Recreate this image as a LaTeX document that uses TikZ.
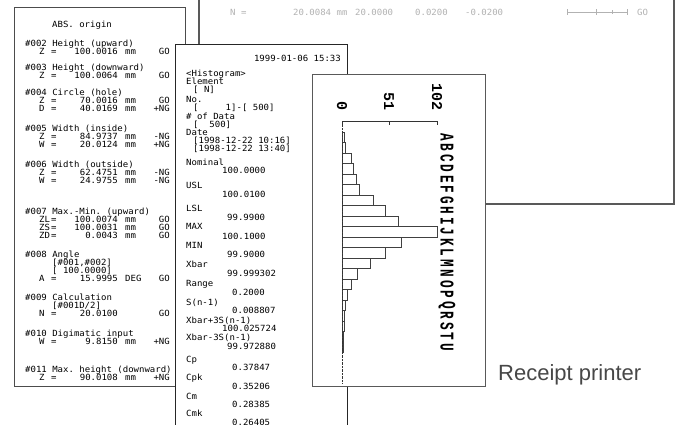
\documentclass[tikz,border=0pt]{standalone}
\usepackage{fontspec}
\setmonofont[FakeStretch=1.06]{DejaVu Sans Mono}
\newfontfamily\histfont{Liberation Mono}
\newfontfamily\capfont{Liberation Sans}
\usetikzlibrary{positioning}

\begin{document}
\begin{tikzpicture}[x=1pt, y=-1pt,
    sheet/.style={draw=black!70, fill=white, line width=0.9pt},
    prt/.style={font=\ttfamily\fontsize{8.5}{8.5}\selectfont, inner sep=0pt,
      text height=6pt, text depth=0pt, anchor=west},
    prtr/.style={prt, anchor=east},
    faint/.style={prt, text=black!30},
    hbar/.style={draw=black!75, fill=white, line width=0.6pt},
    hnum/.style={font=\histfont\bfseries\fontsize{15}{15}\selectfont,
      inner sep=0pt, rotate=-90, anchor=east},
    hlet/.style={font=\histfont\bfseries\fontsize{15}{15}\selectfont,
      inner sep=0pt, rotate=-90}]
  \useasboundingbox (0,0) rectangle (681,424);

  % Back sheet (top right)
  \draw[sheet, draw=black!65, line width=1.1pt] (199,-5) rectangle (674,204);
  \node[faint] (bvar) at (230,12) {N =};
  \node[faint] (bval) at (293,12) {20.0084 mm};
  \node[faint] (bnom) at (355,12) {20.0000};
  \node[faint] (bup) at (415,12) {0.0200};
  \node[faint] (blo) at (465,12) {-0.0200};
  \node[faint] (bjd) at (637,12) {GO};
  \draw[black!30] (567,12) -- (627,12);
  \draw[black!30] (567,9) -- ++(0,6) (596,9) -- ++(0,6) (612,10) -- ++(0,4)
    (627,9) -- ++(0,6);

  % Left sheet
  \draw[sheet] (14,7) rectangle (185,386);
  \foreach \xx/\yy/\tx [count=\i] in {
      52/24/ABS. origin,
      25/43/\#002 Height (upward),
      25/67/\#003 Height (downward),
      25/92/\#004 Circle (hole),
      25/128/\#005 Width (inside),
      25/164/\#006 Width (outside),
      25/211/\#007 Max.-Min. (upward),
      25/254/\#008 Angle,
      52/262/{[\#001,\#002]},
      52/270/{[\ 100.0000]},
      25/297/\#009 Calculation,
      52/305/{[\#001D/2]},
      25/333/\#010 Digimatic input,
      25/369/\#011 Max. height (downward)}
    \node[prt] (lh\i) at (\xx,\yy) {\tx};
  \foreach \yy/\vr/\vl/\un/\jd [count=\i] in {
      51/Z/100.0016/mm/GO,
      75/Z/100.0064/mm/GO,
      100/Z/70.0016/mm/GO,
      108/D/40.0169/mm/+NG,
      136/Z/84.9737/mm/-NG,
      144/W/20.0124/mm/+NG,
      172/Z/62.4751/mm/-NG,
      180/W/24.9755/mm/-NG,
      219/ZL/100.0074/mm/GO,
      227/ZS/100.0031/mm/GO,
      235/ZD/0.0043/mm/GO,
      278/A/15.9995/DEG/GO,
      313/N/20.0100//GO,
      341/W/9.8150/mm/+NG,
      377/Z/90.0108/mm/+NG}
  {
    \node[prt] (lv\i) at (39,\yy) {\vr};
    \node[prt] (le\i) at (51,\yy) {=};
    \node[prtr] (ln\i) at (118,\yy) {\vl};
    \node[prt] (lu\i) at (125,\yy) {\un};
    \node[prtr] (lj\i) at (170,\yy) {\jd};
  }

  % Middle sheet
  \draw[sheet, draw=black!85, line width=0.8pt] (175,430) -- (175,44) -- (347,44)
    -- (347,430);
  \node[prtr] (mdate) at (341,58) {1999-01-06 15:33};
  \foreach \xx/\yy/\tx [count=\i] in {
      186/73/{<Histogram>},
      186/81/Element,
      193/89/{[ N]},
      186/99/No.,
      193/107/{[\ \ \ \ \ 1]-[\ 500]},
      186/116/{\# of Data},
      193/124/{[\ \ 500]},
      186/132/Date,
      193/140/{[1998-12-22 10:16]},
      193/148/{[1998-12-22 13:40]},
      186/162/Nominal,   222/170/100.0000,
      186/185/USL,       222/194/100.0100,
      186/208/LSL,       227/217/99.9900,
      186/226/MAX,       222/236/100.1000,
      186/245/MIN,       227/254/99.9000,
      186/264/Xbar,      227/273/99.999302,
      186/283/Range,     232/292/0.2000,
      186/302/{S(n-1)},  232/310/0.008807,
      186/320/{Xbar+3S(n-1)}, 222/328/100.025724,
      186/337/{Xbar-3S(n-1)}, 227/346/99.972880,
      186/359/Cp,        232/367/0.37847,
      186/377/Cpk,       232/386/0.35206,
      186/396/Cm,        232/404/0.28385,
      186/413/Cmk,       232/422/0.26405}
    \node[prt] (mt\i) at (\xx,\yy) {\tx};

  % Histogram sheet
  \draw[sheet, draw=black!65] (312,74) rectangle (485,386);
  \draw[black!80, line width=0.6pt] (342,121) -- (437,121);
  \draw[black!80, line width=0.6pt] (342,121) -- ++(0,4) (389,121) -- ++(0,4)
    (437,121) -- ++(0,4);
  \node[hnum] (h0) at (342,111) {0};
  \node[hnum] (h51) at (389,111) {51};
  \node[hnum] (h102) at (437,111) {102};
  \foreach \cnt [count=\i from 0] in {2,4,10,12,15,19,34,47,60,102,64,46,30,16,10,6,4,3,2,1,1}
    \draw[hbar] (342,{132+\i*10.5}) rectangle ++({\cnt*95/102},10.5);
  \draw[black!80, densely dotted] (342,125) -- (342,383);
  \foreach \letr [count=\i from 0] in {A,B,C,D,E,F,G,H,I,J,K,L,M,N,O,P,Q,R,S,T,U}
    \node[hlet] (hl\i) at (447,{137.25+\i*10.5}) {\scalebox{0.85}[1.3]{\letr}};

  % Caption
  \node[font=\capfont\fontsize{22}{22}\selectfont, text=black!72, inner sep=0pt,
    anchor=base west] (rcpt) at (498,380) {Receipt printer};
\end{tikzpicture}
\end{document}
